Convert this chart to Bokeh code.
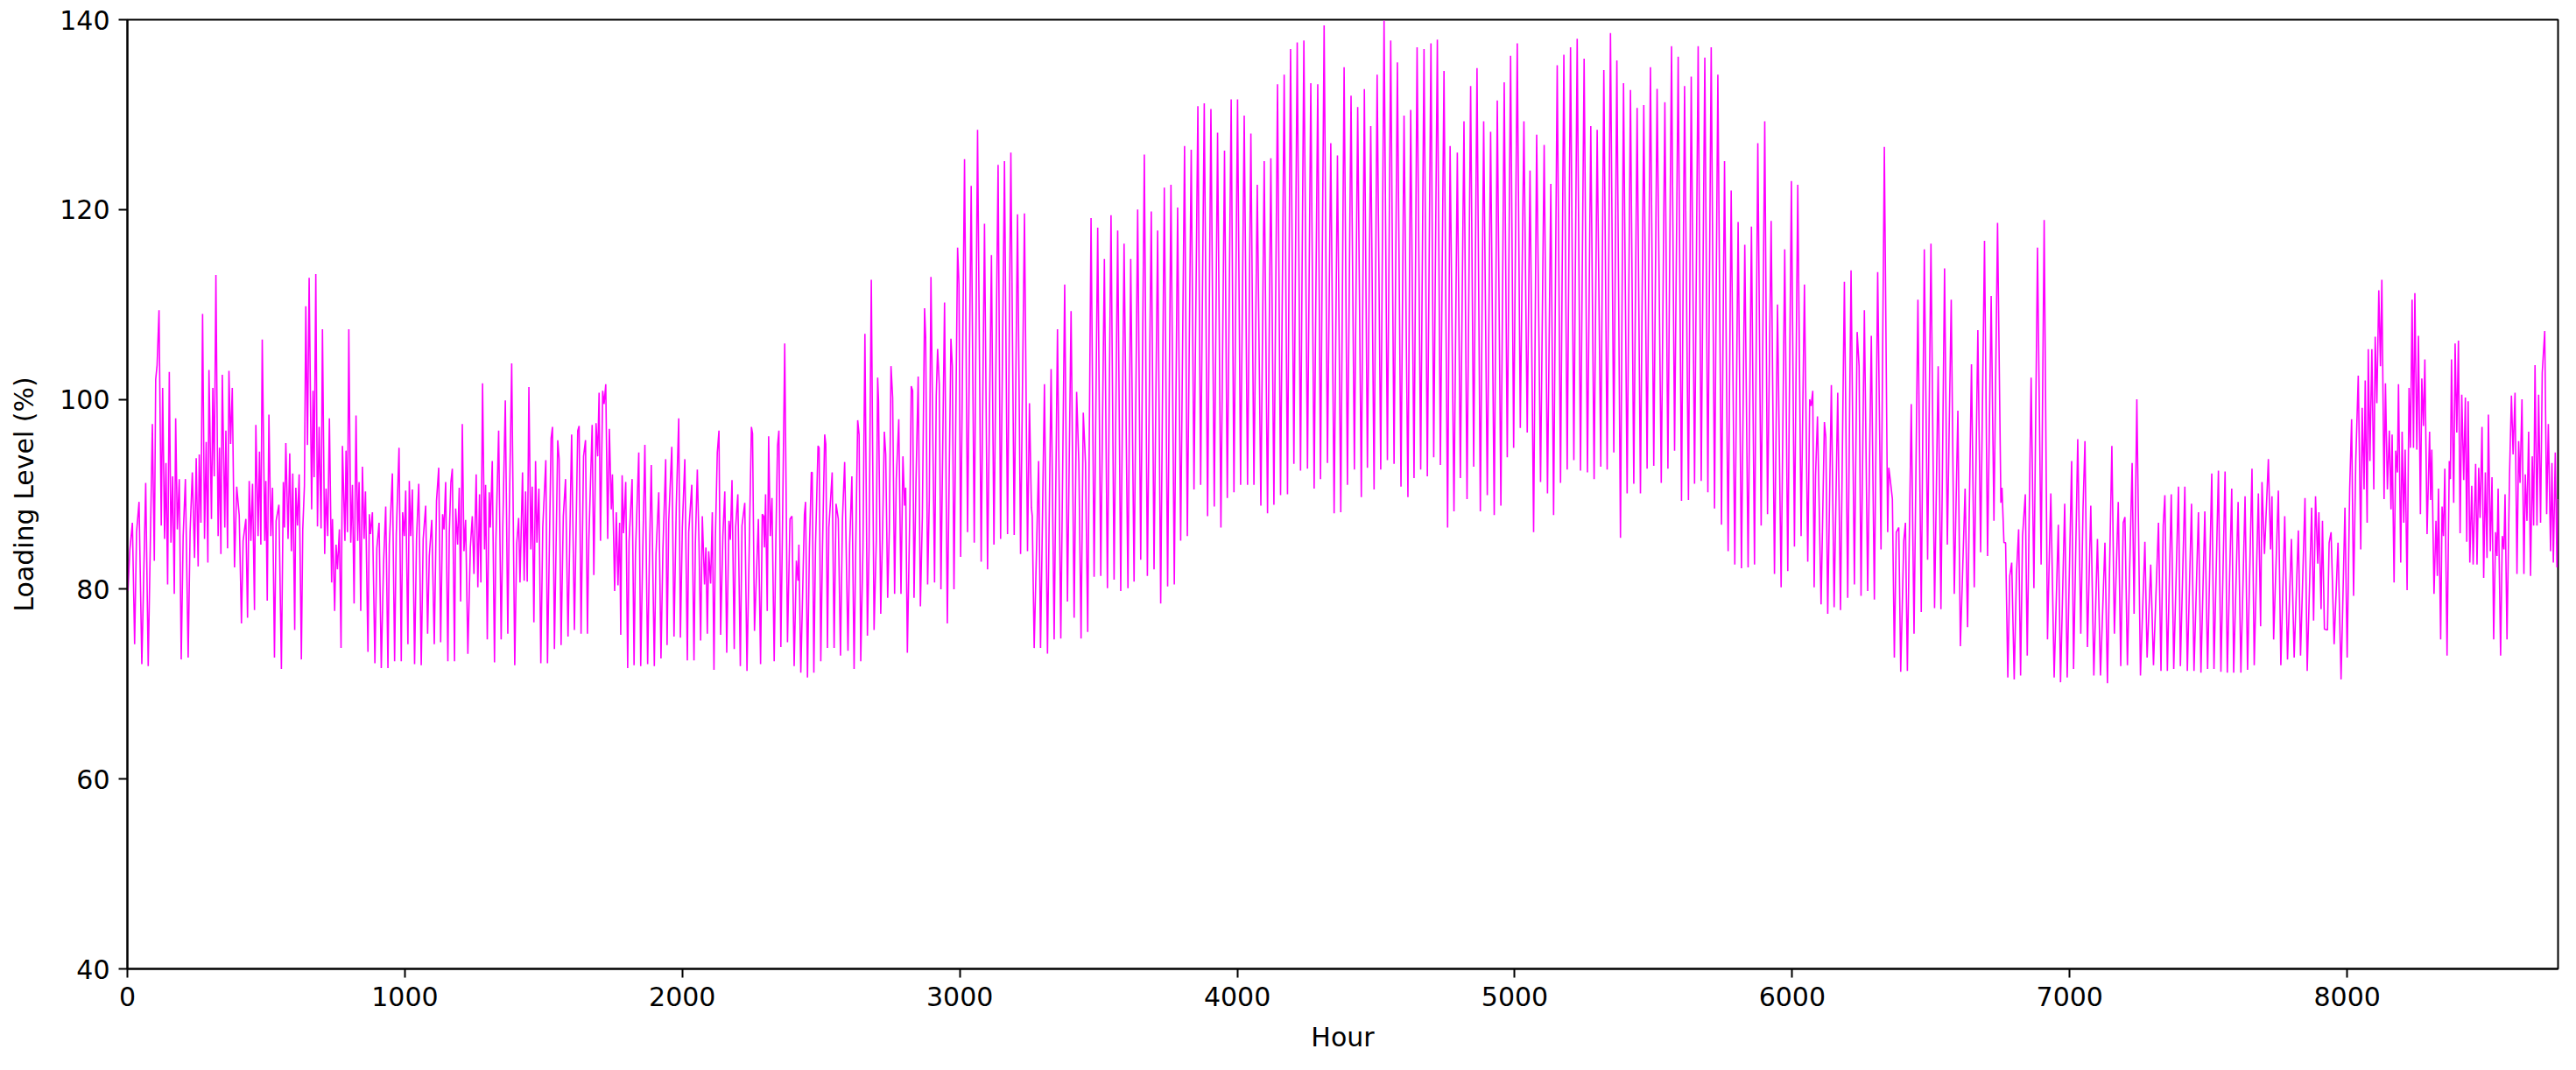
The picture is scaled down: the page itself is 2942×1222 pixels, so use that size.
from bokeh.plotting import figure
from bokeh.models import Range1d, FixedTicker
from bokeh.embed import file_html
from bokeh.resources import INLINE

# Readings (hour, loading level %): daily peaks and troughs
jan = [(0,83.0),(2,79.8),(9,84.2),(18,87.0),(26,74.2),(33,86.0),(42,89.2),(52,72.1),(66,91.2),(75,71.9),
 (90,97.4),(97,83.0),(102,102.1),(107,103.6),(114,109.4),(122,86.7),(127,101.2),(134,85.3),(139,93.3),(145,80.5),
 (151,102.9),(157,84.9),(163,91.9),(169,79.5),(174,98.0),(180,86.3),(187,91.6),(194,72.6),(201,85.6),(209,91.6),
 (219,72.8),(226,86.0),(234,92.3),(242,83.3),(248,93.8),(255,82.4),(259,94.2),(265,87.0),(271,109.0),(278,85.3),
 (284,95.5),(290,82.8),(294,103.1),(303,87.4),(308,101.2),(313,91.9),(319,113.1),(327,85.6),(332,94.9),(337,83.7),
 (342,102.6),(351,86.5),(355,96.7),(361,84.3),(366,103.0),(372,95.3),(378,101.2),(386,82.3),(394,90.8),(403,87.8),
 (411,76.4),(417,85.1),(427,87.4),(433,77.0),(439,91.4),(445,85.1),(451,91.1),(458,77.8),(463,97.3),(471,85.6),
 (476,94.5),(481,84.7),(486,106.3),(495,85.1),(499,91.4),(504,78.8),(510,98.4),(517,85.6),(523,90.7),(530,72.8),
 (536,87.2),(546,88.9),(555,71.6),(562,91.3),(566,86.5),(571,95.4),(579,85.3),(585,94.3),(591,84.0),(596,92.2),
 (603,75.7),(607,90.7),(613,86.7),(619,92.1),(627,72.6),(632,86.3),(638,90.9),(643,109.8),(649,95.2),(655,112.8),
 (664,88.4),(669,100.9),(673,91.8),(679,113.2),(685,86.6),(691,97.1),(698,86.4),(703,107.4),(711,83.7),(716,90.6),
 (722,85.6)]

feb = [(728,98.0),(736,80.7),(739,87.4),(747,77.7),(752,84.7),(757,82.1),(764,86.3),(770,73.8),(775,95.1),(784,85.1),
 (788,94.6),(793,86.0),(798,107.4),(805,84.9),(811,91.0),(817,78.5),(824,98.3),(830,85.1),(835,91.3),(841,77.7),
 (847,92.9),(853,85.3),(858,90.3),(867,73.4),(872,87.9),(876,85.8),(883,88.1),(892,72.2),(899,84.3),(907,87.0),
 (915,71.7),(923,82.6),(931,88.7),(939,71.7),(944,84.7),(955,92.2),(963,72.4),(969,85.8),(979,94.9),(987,72.4),
 (992,88.1),(998,85.6),(1003,90.4),(1011,74.2),(1016,91.4),(1021,85.6),(1027,90.5),(1035,72.1),(1042,85.3),(1050,91.1),
 (1059,72.0),(1066,85.3),(1075,88.8),(1082,75.3),(1088,83.5),(1097,87.3),(1106,74.2),(1114,89.3),(1122,92.8),(1129,74.4),
 (1136,87.9),(1141,86.3),(1147,91.3),(1155,72.4),(1160,85.9),(1166,91.3),(1171,92.7),(1179,72.4),(1183,88.5),(1190,84.7),
 (1196,90.7),(1201,78.7),(1207,97.4),(1213,84.0),(1219,87.3),(1227,73.2),(1236,84.4),(1243,87.7),(1249,81.6),(1257,92.1),
 (1263,80.2),(1269,90.0),(1274,80.7),(1280,101.7),(1287,84.2),(1291,91.0),(1297,74.7),(1304,90.2),(1308,86.5),(1315,93.5),
 (1323,72.3),(1328,85.1),(1338,96.7),(1347,74.7),(1353,86.7),(1362,99.9),(1371,75.3),(1376,87.3),(1385,103.8),(1396,72.0),
 (1403,84.8),(1410,87.5),(1415,80.7),(1424,92.3),(1430,80.9),(1435,90.3),(1441,80.8),(1447,101.3),(1454,84.2),(1459,90.8)]

mar = [(1465,76.5),(1471,93.5),(1476,84.9),(1483,90.6),(1490,72.2),(1497,86.5),(1508,93.6),(1514,72.2),(1527,95.9),(1532,97.1),
 (1539,73.7),(1551,95.7),(1556,93.7),(1563,74.1),(1571,87.7),(1579,91.6),(1588,75.0),(1601,96.3),(1611,75.7),(1623,96.7),
 (1628,97.2),(1635,75.3),(1644,94.0),(1651,95.7),(1658,75.3),(1663,85.1),(1675,97.3),(1681,81.5),(1689,97.5),(1695,94.0),
 (1700,100.7),(1705,85.1),(1713,100.9),(1718,99.5),(1724,101.6),(1731,85.3),(1737,96.9),(1744,88.4),(1748,92.1),(1756,79.8),
 (1762,88.1),(1768,80.4),(1774,87.0),(1778,75.2),(1783,92.0),(1788,85.9),(1796,91.3),(1803,71.7),(1808,85.0),(1819,91.6),
 (1826,72.0),(1831,83.7),(1843,94.4),(1850,71.9),(1857,83.5),(1865,95.2),(1875,72.1),(1881,82.8),(1888,93.1),(1899,71.9),
 (1905,83.7),(1915,90.2),(1923,72.7),(1930,84.2),(1940,93.7),(1945,74.1),(1951,87.2),(1962,95.0),(1970,75.0),(1978,88.6),
 (1987,98.0),(1993,74.9),(2000,86.5),(2009,93.7),(2018,72.5),(2023,86.0),(2034,91.0),(2042,72.5),(2047,84.9),(2054,92.6),
 (2060,84.9),(2066,74.6),(2072,87.7),(2080,80.5),(2085,84.4),(2090,75.3),(2095,84.0),(2102,80.6),(2108,88.1),(2114,71.5),
 (2119,85.3),(2126,94.4),(2132,96.7),(2138,75.2),(2146,85.6),(2153,90.3),(2160,73.3),(2168,87.2),(2173,85.2),(2179,91.5),
 (2187,73.7),(2192,86.5)]

apr = [(2200,90.0),(2209,71.9),(2215,86.7),(2225,89.1),(2233,71.4),(2249,97.1),(2253,96.4),(2260,75.6),(2274,87.4),(2282,72.1),
 (2288,87.9),(2293,87.7),(2296,84.4),(2300,90.0),(2306,77.7),(2311,96.1),(2317,85.6),(2323,89.6),(2331,72.4),(2337,85.1),
 (2343,95.1),(2348,96.7),(2355,73.9),(2361,86.7),(2369,105.9),(2379,74.4),(2388,87.4),(2395,87.7),(2403,71.9),(2411,83.0),
 (2417,80.9),(2420,84.7),(2427,71.2),(2440,87.9),(2444,89.2),(2451,70.7),(2458,84.4),(2465,92.3),(2468,92.3),(2474,71.2),
 (2480,84.7),(2489,95.1),(2493,94.9),(2499,72.4),(2505,84.2),(2513,96.3),(2517,95.3),(2523,73.8),(2528,86.5),(2534,89.3),
 (2540,92.3),(2547,73.8),(2554,89.0),(2562,87.4),(2570,73.0),(2577,87.3),(2585,93.4),(2597,73.5),(2603,84.7),(2611,91.9),
 (2619,71.6),(2625,84.7),(2632,97.8),(2637,96.3),(2643,72.4),(2651,84.4),(2658,106.9),(2667,75.1),(2673,84.4),(2681,112.6),
 (2691,75.7),(2699,85.1),(2704,102.3),(2707,99.8),(2715,77.4),(2722,86.5),(2728,96.6),(2733,94.2),(2740,79.1),(2746,86.3),
 (2752,103.5),(2758,100.2),(2765,79.5),(2771,91.6),(2780,97.9),(2788,79.5),(2795,94.0),(2801,88.8),(2805,90.7),(2811,73.3),
 (2820,88.4),(2825,101.4),(2830,100.9),(2835,79.1),(2842,91.2),(2850,102.4),(2858,78.2),(2865,87.7),(2873,109.6),(2877,106.5),
 (2884,80.5),(2890,89.5),(2896,112.9),(2909,80.7),(2915,100.3),(2920,105.3),(2926,101.6)]

may = [(2932,80.0),(2945,110.2),(2955,76.4),(2968,106.4),(2973,103.5),(2979,80.0),(2992,116.0),(2997,112.1),(3003,83.4),(3017,125.3),
 (3028,86.0),(3041,122.5),(3052,84.9),(3064,128.4),(3077,82.9),(3089,118.5),(3100,82.1),(3114,115.2),(3123,84.7),(3138,124.7),
 (3147,85.3),(3161,125.1),(3172,85.8),(3184,126.0),(3196,85.7),(3208,119.5),(3219,83.7),(3233,119.6),(3244,84.0),(3251,99.6),
 (3258,88.6),(3261,87.7),(3268,73.8),(3284,93.5),(3291,73.8),(3305,101.6),(3316,73.2),(3329,103.2),(3340,74.7),(3352,107.4),
 (3364,74.8),(3378,112.1),(3388,78.7),(3401,109.3),(3412,77.0),(3421,100.8),(3429,93.3),(3437,74.8),(3445,98.6),(3453,93.3),
 (3461,75.5),(3473,119.1),(3484,81.3),(3497,118.1),(3508,81.4),(3521,114.8),(3532,80.1),(3545,119.4),(3556,81.0),(3569,117.8),
 (3580,79.8),(3592,116.4),(3606,80.1),(3616,114.8),(3628,80.8),(3641,120.0),(3652,83.1),(3665,125.8)]

jun = [(3676,81.4),(3690,119.8),(3700,82.1),(3713,117.8),(3724,78.5),(3737,122.3),(3749,80.3),(3761,122.6),(3773,80.5),(3785,120.2),
 (3796,85.1),(3810,126.7),(3820,85.6),(3834,126.3),(3844,90.5),(3858,130.9),(3868,91.0),(3881,131.2),(3893,87.7),(3905,130.6),
 (3917,88.7),(3929,128.1),(3941,86.5),(3954,126.2),(3964,89.6),(3978,131.6),(3988,90.2),(4001,131.6),(4012,91.0),(4025,129.9),
 (4037,91.0),(4049,128.0),(4060,91.0),(4072,122.6),(4085,88.8),(4097,125.1),(4109,88.0),(4121,125.4),(4132,88.9),(4145,133.2),
 (4156,89.9),(4169,134.2),(4181,90.0),(4192,136.9),(4204,93.2),(4216,137.6),(4228,92.5),(4240,137.8),(4253,92.7),(4265,133.3),
 (4277,90.6),(4290,133.2),(4300,91.6),(4313,139.4),(4325,93.3),(4337,127.0),(4349,88.0),(4361,125.7),(4373,88.1),(4385,135.0),
 (4397,91.0)]

jul = [(4410,132.0),(4422,92.6),(4434,130.8),(4447,89.7),(4458,132.7),(4469,92.8),(4481,128.8),(4493,90.5),(4504,134.2),(4517,92.6),
 (4529,139.9),(4541,93.6),(4553,137.8),(4565,93.2),(4577,135.5),(4590,90.8),(4601,129.9),(4615,89.7),(4625,130.5),(4637,91.7),
 (4648,137.1),(4661,92.6),(4673,136.9),(4685,91.9),(4698,137.5),(4708,93.9),(4721,137.9),(4732,93.1),(4745,134.6),(4758,86.5),
 (4767,126.7),(4781,88.2),(4793,126.0),(4804,91.7),(4817,129.3),(4828,89.5),(4841,133.0),(4852,92.9),(4864,134.9),(4876,88.2),
 (4888,129.3),(4901,89.9),(4913,128.2),(4926,87.8),(4937,131.5),(4950,88.8),(4962,133.4),(4973,93.9),(4985,136.2),(4996,94.9),
 (5009,137.5),(5020,97.0),(5033,129.3),(5045,96.5),(5055,124.1),(5068,86.0),(5079,127.9),(5093,91.3),(5106,126.8),(5118,90.1),
 (5130,122.7)]

aug = [(5140,87.8),(5153,135.2),(5165,91.2),(5177,136.3),(5189,92.6),(5201,137.1),(5213,93.6),(5225,138.0),(5237,92.5),(5250,135.9),
 (5262,92.3),(5274,128.8),(5286,91.6),(5297,128.4),(5310,92.9),(5321,134.7),(5333,92.6),(5345,138.6),(5357,94.4),(5368,135.7),
 (5381,85.4),(5392,133.3),(5405,90.1),(5417,132.6),(5429,91.1),(5441,130.7),(5453,90.1),(5465,131.0),(5477,92.7),(5489,135.0),
 (5501,93.0),(5513,132.7),(5528,91.2),(5541,131.3),(5552,92.7),(5565,137.2),(5576,94.6),(5589,136.1),(5601,89.3),(5612,133.0),
 (5626,89.4),(5636,134.0),(5648,91.1),(5661,137.2),(5672,91.4),(5685,136.0),(5696,90.2),(5708,137.1),(5720,88.5),(5732,134.2),
 (5745,86.8),(5756,125.1),(5769,84.0),(5780,122.0),(5793,82.6),(5805,118.7),(5817,82.2),(5829,116.3),(5841,82.3),(5853,118.2),
 (5864,82.6)]

sep = [(5876,127.0),(5888,86.7),(5901,129.3),(5911,87.9),(5924,118.8),(5936,81.6),(5947,110.0),(5960,80.2),(5973,115.8),(5984,81.9),
 (5997,123.0),(6008,84.5),(6020,122.6),(6032,85.6),(6044,112.1),(6056,82.9),(6063,100.0),(6068,99.3),(6074,100.9),(6079,80.2),
 (6084,91.9),(6091,98.2),(6104,78.4),(6116,97.6),(6121,96.0),(6128,77.4),(6141,101.5),(6151,78.1),(6164,100.7),(6174,77.8),
 (6188,112.4),(6200,79.1),(6212,113.6),(6224,80.5),(6234,107.1),(6241,103.5),(6248,79.3),(6260,109.4),(6272,79.8),(6285,106.7),
 (6296,78.9),(6308,113.4),(6320,84.2),(6332,126.6),(6344,86.0),(6348,92.8),(6353,91.6),(6361,89.5),(6368,72.8),(6375,86.0),
 (6384,86.5),(6391,71.3),(6402,85.1),(6408,87.0),(6415,71.4),(6429,99.5),(6439,75.3),(6453,110.5),(6465,77.6),(6476,115.8),
 (6488,83.1),(6500,116.4),(6513,78.0),(6526,103.5),(6536,77.9),(6549,113.8),(6559,84.7),(6573,110.5),(6584,79.5),(6597,98.8),
 (6606,74.0)]

octo = [(6623,90.6),(6632,76.0),(6646,103.7),(6656,80.2),(6669,107.3),(6679,83.9),(6693,116.7),(6704,83.5),(6717,110.9),(6727,87.2),
 (6740,118.6),(6752,89.1),(6756,90.7),(6763,84.9),(6769,84.9),(6777,70.7),(6784,81.4),(6791,82.8),(6800,70.5),(6808,81.5),
 (6816,86.3),(6823,70.9),(6830,85.6),(6840,90.0),(6847,73.0),(6861,102.3),(6871,80.1),(6884,116.0),(6897,82.6),(6908,118.9),
 (6920,74.7),(6927,84.2),(6932,90.1),(6944,70.7),(6959,86.8),(6967,70.2),(6982,89.0),(6991,70.7),(7007,93.5),(7014,71.6),
 (7029,95.8),(7040,75.3),(7048,88.4),(7055,95.6),(7064,73.9),(7076,88.8),(7087,70.9),(7100,85.3),(7111,70.9),(7127,84.9),
 (7136,70.1),(7152,95.1),(7161,75.3),(7175,89.2),(7184,71.9),(7193,87.0),(7199,87.6),(7208,72.0),(7225,93.3),(7232,77.4),
 (7242,100.0),(7255,70.9),(7271,85.0),(7279,72.8),(7292,82.6),(7302,72.0),(7320,87.0),(7329,71.4),(7337,86.7)]

nov = [(7343,89.9),(7352,71.4),(7366,90.0),(7375,71.6),(7392,90.8),(7399,71.9),(7415,90.8),(7424,71.4),(7439,89.0),(7448,71.4),
 (7464,88.1),(7473,71.2),(7487,88.2),(7497,71.6),(7512,92.2),(7520,71.6),(7536,92.5),(7545,71.3),(7560,92.4),(7568,71.2),
 (7584,90.6),(7591,71.2),(7607,89.2),(7617,71.2),(7632,89.8),(7641,71.5),(7657,92.7),(7665,72.0),(7680,90.1),(7688,76.1),
 (7693,91.3),(7702,83.7),(7716,93.7),(7724,84.2),(7729,89.8),(7735,74.7),(7752,90.4),(7761,72.0),(7775,87.7),(7785,72.6),
 (7799,85.3),(7809,72.8),(7824,86.2),(7832,73.0),(7848,89.6),(7856,71.4),(7872,88.6),(7879,76.7),(7886,89.8),(7894,82.7),
 (7898,88.1),(7906,77.9),(7911,87.2),(7918,75.8),(7929,75.7),(7935,84.9),(7942,86.0),(7953,74.2),(7967,84.9),(7978,70.5),
 (7992,88.6),(8000,72.8),(8009,90.5),(8016,97.9),(8023,79.3),(8031,93.5),(8040,102.5),(8049,84.2),(8054,99.1),(8061,90.5),
 (8065,102.0),(8072,87.0)]

dec = [(8076,105.3),(8082,93.5),(8089,105.3),(8096,90.5),(8101,106.6),(8107,99.6),(8114,111.5),(8120,103.5),(8125,112.6),(8133,89.5),
 (8138,101.7),(8145,90.5),(8152,96.7),(8158,88.4),(8162,96.3),(8169,80.7),(8175,94.6),(8181,92.3),(8185,101.6),(8193,82.8),
 (8198,96.6),(8204,87.0),(8209,94.7),(8216,79.9),(8223,101.2),(8228,94.9),(8234,110.5),(8239,94.9),(8244,111.2),(8251,94.7),
 (8257,106.7),(8264,87.9),(8269,102.2),(8275,97.2),(8280,104.2),(8288,85.8),(8297,96.6),(8301,89.4),(8305,94.7),(8313,79.5),
 (8320,87.2),(8325,81.4),(8329,90.6),(8337,74.7),(8342,88.7),(8347,85.6),(8352,92.7),(8360,73.0),(8368,93.5),(8372,91.6),
 (8376,104.2),(8384,89.1),(8389,105.9),(8395,96.5),(8401,106.2),(8407,85.9),(8413,100.5),(8420,91.5),(8426,100.2),(8431,85.0),
 (8436,99.8),(8442,82.8),(8449,90.9),(8454,82.6),(8463,93.2),(8468,82.6),(8474,92.8),(8479,87.5),(8486,97.1),(8492,81.2),
 (8498,92.3),(8504,83.3),(8509,98.4),(8516,84.0),(8522,91.8),(8528,74.7),(8535,86.0),(8540,83.5),(8544,90.6),(8553,73.0),
 (8559,85.6),(8565,84.2),(8569,90.0),(8576,74.7),(8585,91.9),(8592,100.4),(8598,94.2),(8605,100.7),(8612,81.6),(8618,95.6),
 (8623,91.2),(8630,100.0),(8637,81.6),(8642,92.1),(8648,87.2),(8654,96.6),(8661,81.4),(8667,94.0),(8672,86.7),(8677,103.6),
 (8684,86.7),(8690,100.5),(8697,87.0),(8703,102.8),(8712,107.2),(8719,87.9),(8725,97.4),(8733,84.0),(8738,93.3),(8743,82.8),
 (8750,94.4),(8756,82.3),(8760,89.5)]

x_ticks = [0, 1000, 2000, 3000, 4000, 5000, 6000, 7000, 8000]
y_ticks = [40, 60, 80, 100, 120, 140]

segments = [jan, feb, mar, apr, may, jun, jul, aug, sep, octo, nov, dec]
hours = [h for seg in segments for h, _ in seg]
level = [v for seg in segments for _, v in seg]

FONT = "DejaVu Sans"

p = figure(width=2926, height=1206, output_backend="svg", toolbar_location=None,
           x_range=Range1d(0, 8760), y_range=Range1d(40, 140),
           min_border_left=145, min_border_right=5, min_border_top=22, min_border_bottom=100)
p.background_fill_color = "white"
p.border_fill_color = "white"
p.outline_line_color = "black"
p.outline_line_width = 2
p.xgrid.visible = False
p.ygrid.visible = False

p.line(hours, level, line_color="#ff00ff", line_width=1.6)

for ax in (p.xaxis[0], p.yaxis[0]):
    ax.axis_line_color = "black"
    ax.axis_line_width = 2
    ax.major_tick_in = 0
    ax.major_tick_out = 10
    ax.major_tick_line_width = 2
    ax.minor_tick_line_color = None
    ax.major_label_text_font = FONT
    ax.major_label_text_font_size = "30px"
    ax.major_label_text_color = "black"
    ax.axis_label_text_font = FONT
    ax.axis_label_text_font_size = "30px"
    ax.axis_label_text_font_style = "normal"
    ax.axis_label_text_color = "black"
    ax.major_label_standoff = 10

p.xaxis.ticker = FixedTicker(ticks=x_ticks)
p.yaxis.ticker = FixedTicker(ticks=y_ticks)
p.xaxis.axis_label = "Hour"
p.yaxis.axis_label = "Loading Level (%)"
p.xaxis.axis_label_standoff = 15
p.yaxis.axis_label_standoff = 20

open("out.html", "w").write(file_html(p, INLINE))
